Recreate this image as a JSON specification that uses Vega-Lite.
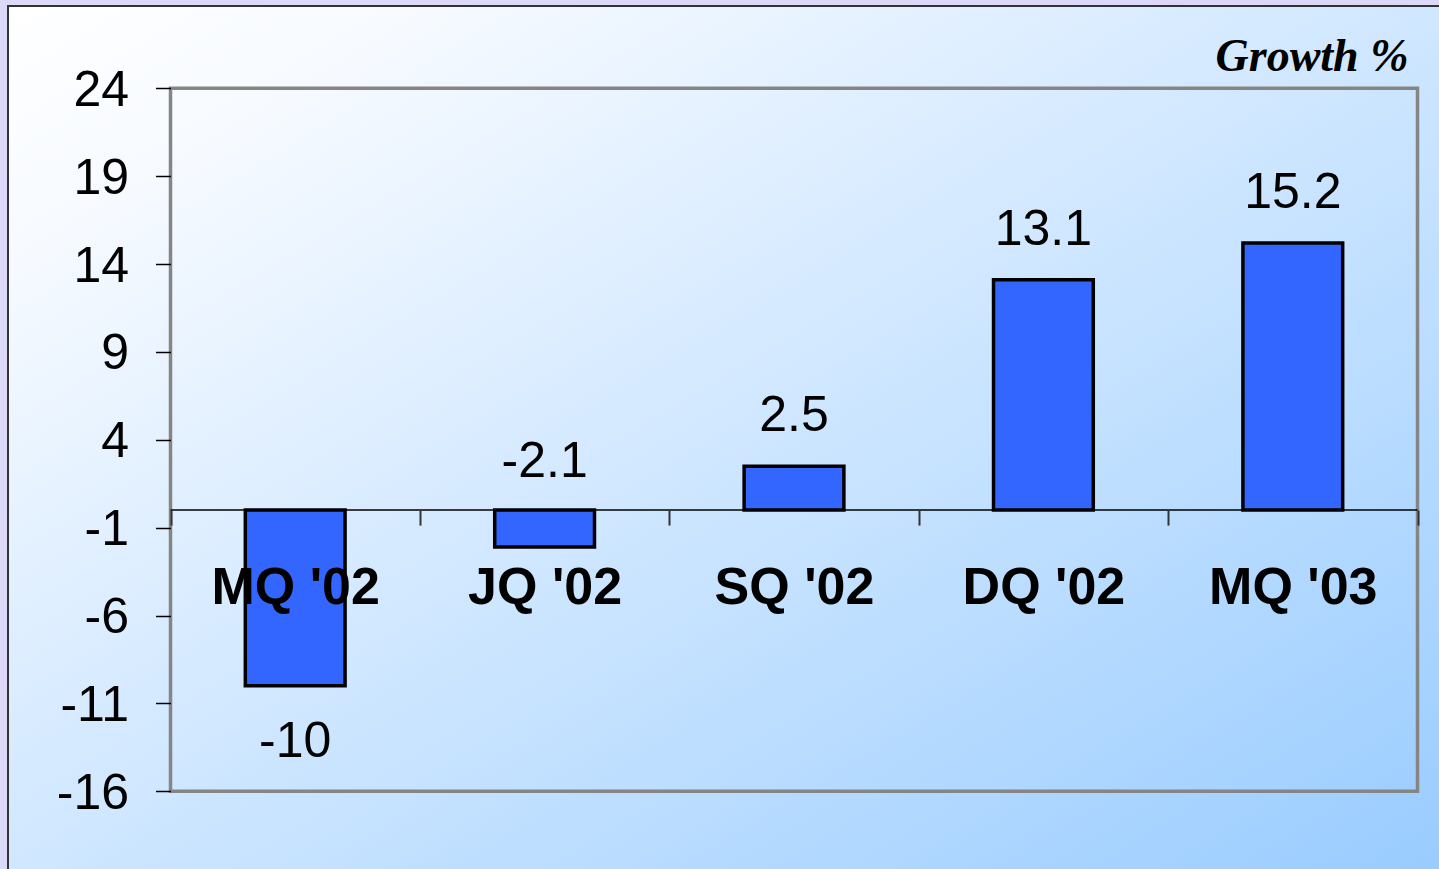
{
  "$schema": "https://vega.github.io/schema/vega-lite/v6.json",
  "width": 1435,
  "height": 867,
  "autosize": {"type": "none"},
  "padding": {"left": 8, "top": 6, "right": -4, "bottom": -4},
  "background": "#DCD9F8",
  "config": {
    "font": "Liberation Sans",
    "view": {
      "fill": {
        "gradient": "linear",
        "x1": 0, "y1": 0, "x2": 1, "y2": 1,
        "stops": [
          {"offset": 0, "color": "#FFFFFF"},
          {"offset": 0.15, "color": "#F6FAFF"},
          {"offset": 1, "color": "#99CCFF"}
        ]
      },
      "stroke": "#333333",
      "strokeWidth": 2
    }
  },
  "data": {
    "values": [
      {"quarter": "MQ '02", "value": -10},
      {"quarter": "JQ '02", "value": -2.1},
      {"quarter": "SQ '02", "value": 2.5},
      {"quarter": "DQ '02", "value": 13.1},
      {"quarter": "MQ '03", "value": 15.2}
    ]
  },
  "layer": [
    {
      "data": {"values": [{}]},
      "mark": {"type": "rect", "fill": null, "stroke": "#858585", "strokeWidth": 3.5},
      "encoding": {
        "x": {"datum": "MQ '02", "type": "nominal", "bandPosition": 0},
        "x2": {"datum": "MQ '03", "bandPosition": 1},
        "y": {"datum": 24, "type": "quantitative"},
        "y2": {"datum": -16}
      }
    },
    {
      "data": {"values": [{}]},
      "mark": {"type": "rule", "color": "#000000", "strokeWidth": 1.5},
      "encoding": {
        "x": {"datum": "MQ '02", "type": "nominal", "bandPosition": 0},
        "x2": {"datum": "MQ '03", "bandPosition": 1},
        "y": {"datum": 0, "type": "quantitative"}
      }
    },
    {
      "mark": {"type": "bar", "fill": "#3366FF", "stroke": "#000000", "strokeWidth": 3.5, "width": {"band": 0.4}},
      "encoding": {
        "x": {
          "field": "quarter",
          "type": "nominal",
          "sort": null,
          "scale": {
            "domain": ["MQ '02", "JQ '02", "SQ '02", "DQ '02", "MQ '03"],
            "paddingInner": 0,
            "paddingOuter": 0.3769,
            "align": 0.8644
          },
          "axis": {
            "orient": "bottom",
            "offset": -362.9,
            "domain": false,
            "grid": false,
            "tickBand": "extent",
            "tickSize": 15,
            "tickColor": "#333333",
            "tickWidth": 2,
            "labelFont": "Liberation Sans",
            "labelFontWeight": "bold",
            "labelFontSize": 52,
            "labelColor": "#000000",
            "labelAngle": 0,
            "labelAlign": "center",
            "labelBaseline": "alphabetic",
            "labelPadding": 78,
            "labelOverlap": false,
            "labelLimit": 0,
            "title": null,
            "zindex": 1
          }
        },
        "y": {
          "field": "value",
          "type": "quantitative",
          "scale": {"domain": [-20.649, 28.683], "nice": false, "zero": false},
          "axis": {
            "orient": "left",
            "offset": -162.5,
            "domain": false,
            "grid": false,
            "values": [-16, -11, -6, -1, 4, 9, 14, 19, 24],
            "tickSize": 15,
            "tickColor": "#000000",
            "tickWidth": 1.5,
            "labelFont": "Liberation Sans",
            "labelFontSize": 50,
            "labelColor": "#000000",
            "labelPadding": 27,
            "labelBaseline": "middle",
            "labelOffset": 2,
            "labelFlush": false,
            "labelExpr": "'' + datum.value",
            "title": "Growth %",
            "titleFont": "Liberation Serif",
            "titleFontStyle": "italic",
            "titleFontWeight": "bold",
            "titleFontSize": 46,
            "titleColor": "#000000",
            "titleAngle": 0,
            "titleAlign": "right",
            "titleBaseline": "alphabetic",
            "titleX": 1237.5,
            "titleY": 64,
            "zindex": 1
          }
        },
        "y2": {"datum": 0}
      }
    },
    {
      "transform": [{"filter": "datum.value >= 0"}],
      "mark": {"type": "text", "fontSize": 50, "color": "#000000", "baseline": "alphabetic", "dy": -35},
      "encoding": {
        "x": {"field": "quarter", "type": "nominal"},
        "y": {"field": "value", "type": "quantitative"},
        "text": {"field": "value", "type": "nominal"}
      }
    },
    {
      "transform": [{"filter": "datum.value < 0 && datum.value > -5"}],
      "mark": {"type": "text", "fontSize": 50, "color": "#000000", "baseline": "alphabetic", "dy": -33},
      "encoding": {
        "x": {"field": "quarter", "type": "nominal"},
        "y": {"datum": 0, "type": "quantitative"},
        "text": {"field": "value", "type": "nominal"}
      }
    },
    {
      "transform": [{"filter": "datum.value <= -5"}],
      "mark": {"type": "text", "fontSize": 50, "color": "#000000", "baseline": "alphabetic", "dy": 71},
      "encoding": {
        "x": {"field": "quarter", "type": "nominal"},
        "y": {"field": "value", "type": "quantitative"},
        "text": {"field": "value", "type": "nominal"}
      }
    }
  ]
}
